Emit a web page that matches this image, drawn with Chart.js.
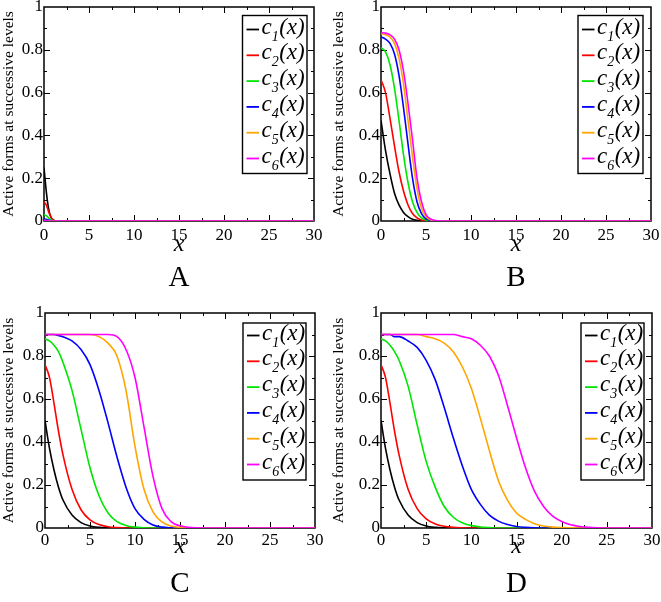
<!DOCTYPE html>
<html><head><meta charset="utf-8">
<script src="https://cdn.jsdelivr.net/npm/chart.js@4.4.0/dist/chart.umd.min.js"></script>
<style>
html,body{margin:0;padding:0;background:#fff;}
#wrap{position:relative;width:661px;height:602px;overflow:hidden;background:#fff;}
canvas{position:absolute;}
</style></head><body>
<div id="wrap">
<canvas id="cA" width="330" height="300" style="left:0;top:0"></canvas>
<canvas id="cB" width="331" height="300" style="left:330px;top:0"></canvas>
<canvas id="cC" width="330" height="302" style="left:0;top:300px"></canvas>
<canvas id="cD" width="331" height="302" style="left:330px;top:300px"></canvas>
</div>
<script>
// ---- shared ----
const seriesNames = ['c1(x)','c2(x)','c3(x)','c4(x)','c5(x)','c6(x)'];
const seriesColors = ['#000000','#ff0000','#00e600','#0000ff','#ffa500','#ff00ff'];
const xTickValues = [0,5,10,15,20,25,30];
const yTickValues = [0,0.2,0.4,0.6,0.8,1];

// ---- Panel A ----
const xA  = [0,0.25,0.5,0.75,1,1.25,1.5,30];
const A_c1 = [0.25,0.14,0.06,0.02,0.005,0.001,0,0];
const A_c2 = [0.09,0.075,0.045,0.02,0.005,0.001,0,0];
const A_c3 = [0.03,0.025,0.015,0.006,0.001,0,0,0];
const A_c4 = [0.01,0.008,0.005,0.002,0,0,0,0];
const A_c5 = [0.003,0.002,0.001,0,0,0,0,0];
const A_c6 = [0.001,0.001,0,0,0,0,0,0];

// ---- Panel B ----
const xB  = [0,0.5,1,1.5,2,2.5,3,3.5,4,4.5,5,5.5,6,6.5,7,30];
const B_c1 = [0.47,0.33,0.22,0.13,0.075,0.04,0.02,0.008,0.003,0.001,0,0,0,0,0,0];
const B_c2 = [0.66,0.6,0.48,0.35,0.23,0.14,0.075,0.035,0.015,0.005,0.001,0,0,0,0,0];
const B_c3 = [0.81,0.79,0.73,0.62,0.47,0.31,0.18,0.09,0.04,0.015,0.005,0.001,0,0,0,0];
const B_c4 = [0.86,0.85,0.83,0.78,0.68,0.53,0.36,0.2,0.09,0.035,0.01,0.003,0,0,0,0];
const B_c5 = [0.875,0.87,0.86,0.83,0.76,0.64,0.47,0.3,0.15,0.06,0.02,0.006,0.001,0,0,0];
const B_c6 = [0.88,0.878,0.87,0.85,0.8,0.7,0.55,0.38,0.2,0.09,0.03,0.01,0.002,0,0,0];

// ---- Panel C ----
const xC  = [0,0.5,1,1.5,2,3,4,5,6,7,8,9,10,11,12,13,14,15,16,17,18,30];
const C_c1 = [0.5,0.37,0.27,0.19,0.13,0.06,0.025,0.009,0.003,0.001,0,0,0,0,0,0,0,0,0,0,0,0];
const C_c2 = [0.76,0.7,0.58,0.45,0.34,0.18,0.085,0.038,0.016,0.006,0.002,0,0,0,0,0,0,0,0,0,0,0];
const C_c3 = [0.88,0.87,0.85,0.82,0.77,0.64,0.46,0.28,0.15,0.07,0.03,0.012,0.004,0.001,0,0,0,0,0,0,0,0];
const C_c4 = [0.9,0.9,0.9,0.895,0.89,0.87,0.83,0.76,0.64,0.49,0.33,0.19,0.09,0.04,0.014,0.004,0.001,0,0,0,0,0];
const C_c5 = [0.9,0.9,0.9,0.9,0.9,0.9,0.9,0.9,0.89,0.86,0.8,0.64,0.38,0.18,0.075,0.028,0.009,0.003,0.001,0,0,0];
const C_c6 = [0.9,0.9,0.9,0.9,0.9,0.9,0.9,0.9,0.9,0.9,0.89,0.83,0.7,0.47,0.24,0.09,0.03,0.01,0.003,0.001,0,0];

// ---- Panel D ----
const xD  = [0,0.5,1,1.5,2,3,4,5,6,7,8,9,10,11,12,13,14,15,16,17,18,19,20,21,22,23,24,25,30];
const D_c1 = [0.5,0.37,0.27,0.19,0.13,0.06,0.025,0.009,0.003,0.001,0,0,0,0,0,0,0,0,0,0,0,0,0,0,0,0,0,0,0];
const D_c2 = [0.76,0.7,0.58,0.45,0.34,0.18,0.09,0.042,0.019,0.008,0.003,0.001,0,0,0,0,0,0,0,0,0,0,0,0,0,0,0,0,0];
const D_c3 = [0.88,0.87,0.85,0.82,0.78,0.66,0.48,0.31,0.19,0.1,0.05,0.024,0.011,0.005,0.002,0,0,0,0,0,0,0,0,0,0,0,0,0,0];
const D_c4 = [0.9,0.9,0.9,0.89,0.89,0.87,0.84,0.78,0.69,0.56,0.42,0.29,0.18,0.11,0.06,0.032,0.016,0.007,0.003,0.001,0,0,0,0,0,0,0,0,0];
const D_c5 = [0.9,0.9,0.9,0.9,0.9,0.9,0.9,0.89,0.88,0.86,0.82,0.75,0.65,0.51,0.36,0.22,0.13,0.07,0.04,0.02,0.009,0.004,0.002,0.001,0,0,0,0,0];
const D_c6 = [0.9,0.9,0.9,0.9,0.9,0.9,0.9,0.9,0.9,0.9,0.9,0.89,0.88,0.85,0.8,0.71,0.57,0.42,0.28,0.17,0.1,0.055,0.03,0.015,0.007,0.003,0.001,0,0];

const SERIF = "'Liberation Serif', 'Times New Roman', serif";
Chart.defaults.font.family = SERIF;
Chart.defaults.color = '#000';

// layout: canvas box and plot area in page coordinates
const panels = [
  {id:'cA', letter:'A', xs:xA, ys:[A_c1,A_c2,A_c3,A_c4,A_c5,A_c6], cx:0,   cy:0,   cw:330, ch:300, l:44,  t:7,   r:314, b:221, lblPad:4, xTitleY:245, leg:{x:242.5,y:15.5,w:64.5,h:158,row0:14,rowH:25.8}, letterY:278},
  {id:'cB', letter:'B', xs:xB, ys:[B_c1,B_c2,B_c3,B_c4,B_c5,B_c6], cx:330, cy:0,   cw:331, ch:300, l:381, t:7,   r:651, b:221, lblPad:4, xTitleY:245, leg:{x:578,y:15.5,w:65,h:158,row0:14,rowH:25.8}, letterY:278},
  {id:'cC', letter:'C', xs:xC, ys:[C_c1,C_c2,C_c3,C_c4,C_c5,C_c6], cx:0,   cy:300, cw:330, ch:302, l:45,  t:313, r:315, b:528, lblPad:2, xTitleY:547, leg:{x:243,y:323,w:63,h:157,row0:12.5,rowH:25.8}, letterY:584},
  {id:'cD', letter:'D', xs:xD, ys:[D_c1,D_c2,D_c3,D_c4,D_c5,D_c6], cx:330, cy:300, cw:331, ch:302, l:381, t:313, r:652, b:528, lblPad:2, xTitleY:547, leg:{x:581,y:323,w:63,h:157,row0:12.5,rowH:25.8}, letterY:584}
];

const framePlugin = {
  id:'frame',
  beforeDatasetsDraw(chart){
    const {ctx, chartArea:a, scales:{x, y}} = chart;
    ctx.save();
    ctx.strokeStyle = '#000';
    ctx.lineWidth = 1;
    ctx.beginPath();
    for (let v = 2.5; v < 30; v += 2.5) {
      const px = Math.round(x.getPixelForValue(v)) + 0.5;
      const len = (v % 5 === 0) ? 6 : 3;
      ctx.moveTo(px, a.bottom); ctx.lineTo(px, a.bottom - len);
      ctx.moveTo(px, a.top); ctx.lineTo(px, a.top + len);
    }
    for (let k = 1; k < 10; k++) {
      const v = k / 10;
      const py = Math.round(y.getPixelForValue(v)) + 0.5;
      const len = (k % 2 === 0) ? 6 : 3;
      ctx.moveTo(a.left, py); ctx.lineTo(a.left + len, py);
      ctx.moveTo(a.right, py); ctx.lineTo(a.right - len, py);
    }
    ctx.stroke();
    ctx.lineWidth = 1.5;
    ctx.strokeRect(a.left, a.top, a.right - a.left, a.bottom - a.top);
    ctx.restore();
  }
};

const legendPlugin = {
  id:'mathLegend',
  afterDraw(chart, args, opts){
    const ctx = chart.ctx;
    const p = opts.panel;
    const L = p.leg;
    const bx = L.x - p.cx, by = L.y - p.cy;
    ctx.save();
    ctx.fillStyle = '#fff';
    ctx.fillRect(bx, by, L.w, L.h);
    ctx.strokeStyle = '#000';
    ctx.lineWidth = 1.4;
    ctx.strokeRect(bx, by, L.w, L.h);
    chart.data.datasets.forEach((ds, i) => {
      const ly = by + L.row0 + i * L.rowH;
      ctx.strokeStyle = ds.borderColor;
      ctx.lineWidth = 1.8;
      ctx.beginPath();
      ctx.moveTo(bx + 4, ly); ctx.lineTo(bx + 16.5, ly);
      ctx.stroke();
      const name = ds.label; // e.g. c1(x)
      let tx = bx + 19;
      const base = ly + 4;
      ctx.fillStyle = '#000';
      ctx.textBaseline = 'alphabetic';
      ctx.textAlign = 'left';
      ctx.font = 'italic 23px ' + SERIF;
      ctx.fillText(name[0], tx, base);
      tx += ctx.measureText(name[0]).width;
      ctx.font = 'italic 14px ' + SERIF;
      ctx.fillText(name[1], tx, base + 7);
      tx += ctx.measureText(name[1]).width + 0.5;
      ctx.font = 'italic 23px ' + SERIF;
      ctx.fillText(name.slice(2), tx, base);
    });
    // panel letter
    ctx.fillStyle = '#000';
    ctx.font = '29px ' + SERIF;
    ctx.textAlign = 'center';
    ctx.textBaseline = 'middle';
    const midX = (p.l + p.r) / 2 - p.cx;
    ctx.fillText(p.letter, midX, p.letterY - p.cy);
    ctx.restore();
  }
};

const fmt = v => String(Math.round(v * 100) / 100);

panels.forEach(p => {
  const datasets = p.ys.map((ys, i) => ({
    label: seriesNames[i],
    data: p.xs.map((xv, k) => ({x: xv, y: ys[k]})),
    borderColor: seriesColors[i],
    backgroundColor: seriesColors[i],
    borderWidth: 1.6,
    pointRadius: 0,
    fill: false,
    cubicInterpolationMode: 'monotone',
    order: 6 - i
  }));
  const xAxisH = 42;
  const padTop = p.t - p.cy;
  const padRight = p.cx + p.cw - p.r;
  const padBottom = p.ch - (p.b - p.cy) - xAxisH;
  const xTitleFont = 24;
  const xTitleCenterFromBottom = (p.b + xAxisH) - p.xTitleY;
  new Chart(document.getElementById(p.id), {
    type: 'line',
    data: { datasets },
    options: {
      responsive: false,
      animation: false,
      devicePixelRatio: 1,
      font: { family: SERIF },
      layout: { padding: { left: 0, top: padTop, right: padRight, bottom: padBottom } },
      plugins: { legend: { display: false }, tooltip: { enabled: false }, mathLegend: { panel: p } },
      scales: {
        x: {
          type: 'linear', min: 0, max: 30,
          afterBuildTicks: s => { s.ticks = xTickValues.map(v => ({value: v})); },
          ticks: { padding: p.lblPad, font: { family: SERIF, size: 17 }, color: '#000', maxRotation: 0, autoSkip: false, callback: fmt },
          grid: { display: false, drawTicks: false },
          border: { display: false },
          title: { display: true, text: 'x', color: '#000',
                   font: { family: SERIF, size: xTitleFont, style: 'italic', lineHeight: 1.2 },
                   padding: { top: 0, bottom: xTitleCenterFromBottom - xTitleFont * 0.6 } },
          afterFit: s => { s.height = xAxisH; s.paddingLeft = 0; s.paddingRight = 0; }
        },
        y: {
          type: 'linear', min: 0, max: 1,
          afterBuildTicks: s => { s.ticks = yTickValues.map(v => ({value: v})); },
          ticks: { padding: 1, font: { family: SERIF, size: 17 }, color: '#000', callback: fmt },
          grid: { display: false, drawTicks: false },
          border: { display: false },
          title: { display: true, text: 'Active forms at successive levels', color: '#000',
                   font: { family: SERIF, size: 15.5, lineHeight: 1.2 }, padding: { top: 0, bottom: 0 } },
          afterFit: s => { s.width = p.l - p.cx; s.paddingTop = 0; s.paddingBottom = 0; }
        }
      }
    },
    plugins: [framePlugin, legendPlugin]
  });
});
</script>
</body></html>
